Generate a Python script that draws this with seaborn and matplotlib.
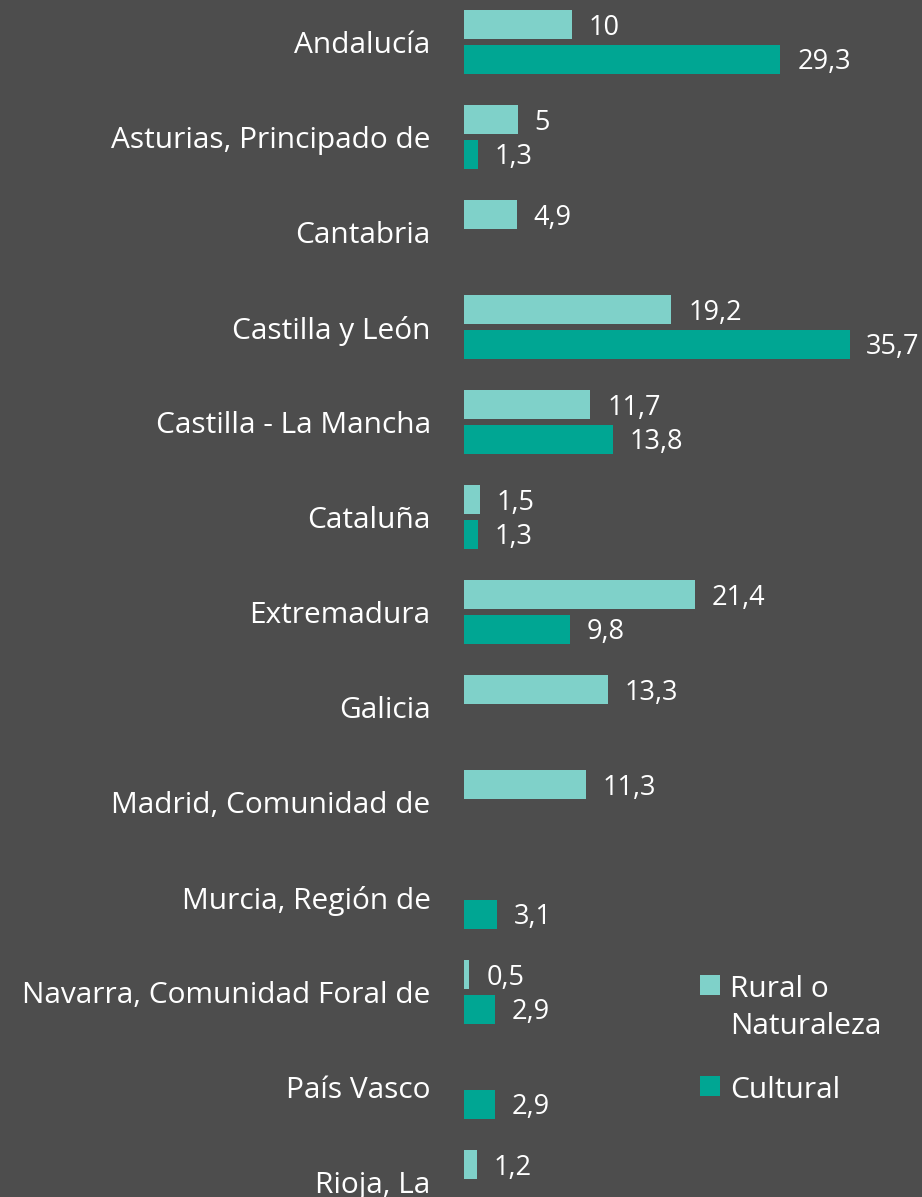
import matplotlib
matplotlib.use("Agg")
import matplotlib.pyplot as plt
import seaborn as sns
import numpy as np
import pandas as pd

regions = ["Andalucía", "Asturias, Principado de", "Cantabria", "Castilla y León",
           "Castilla - La Mancha", "Cataluña", "Extremadura", "Galicia",
           "Madrid, Comunidad de", "Murcia, Región de", "Navarra, Comunidad Foral de",
           "País Vasco", "Rioja, La"]
rural = [10, 5, 4.9, 19.2, 11.7, 1.5, 21.4, 13.3, 11.3, np.nan, 0.5, np.nan, 1.2]
cultural = [29.3, 1.3, np.nan, 35.7, 13.8, 1.3, 9.8, np.nan, np.nan, 3.1, 2.9, 2.9, np.nan]
series = ["Rural o\nNaturaleza", "Cultural"]
colors = ["#7fd1c9", "#00a693"]

bg = "#4d4d4d"
df = pd.DataFrame({"region": regions * 2,
                   "valor": rural + cultural,
                   "tipo": [series[0]] * len(regions) + [series[1]] * len(regions)})

sns.set_style("dark")
plt.rcParams['font.family'] = ['Open Sans', 'DejaVu Sans']

fig = plt.figure(figsize=(9.22, 11.97), dpi=100, facecolor=bg)
ax = fig.add_axes([464 / 922, 0, 458 / 922, 1])
ax.set_facecolor(bg)

sns.barplot(data=df, y="region", x="valor", hue="tipo", order=regions,
            hue_order=series, palette=colors, orient="h", width=0.72, gap=0.15,
            saturation=1, linewidth=0, ax=ax)

def fmt(v):
    if float(v).is_integer():
        return str(int(v))
    return f"{v:.1f}".replace(".", ",")

for cont in ax.containers:
    for bar in cont:
        w = bar.get_width()
        if np.isnan(w) or w == 0:
            continue
        ax.text(w + 1.55, bar.get_y() + bar.get_height() / 2 + 0.03, fmt(w),
                color="white", fontsize=19.5, va="center", ha="left")

ax.set_xlim(0, 458 / 10.8)
ax.set_ylim((1197 - 42) / 95, -42 / 95)
ax.set_xlabel("")
ax.set_ylabel("")
ax.set_xticks([])
ax.tick_params(axis="y", length=0, pad=24, labelsize=21.5, labelcolor="white")
for s in ax.spines.values():
    s.set_visible(False)
ax.grid(False)

leg = ax.legend(loc="upper left", bbox_to_anchor=(0.515, 0.1855), frameon=False,
                fontsize=21.5, labelcolor="white", handlelength=0.67, handleheight=0.67,
                handletextpad=0.33, labelspacing=1.17, borderpad=0, borderaxespad=0)
for col in leg._legend_handle_box.get_children():
    for row in col.get_children():
        row.align = "top"
for t in leg.get_texts():
    t.set_linespacing(1.35)

fig.savefig("out.png", dpi=100, facecolor=bg)
